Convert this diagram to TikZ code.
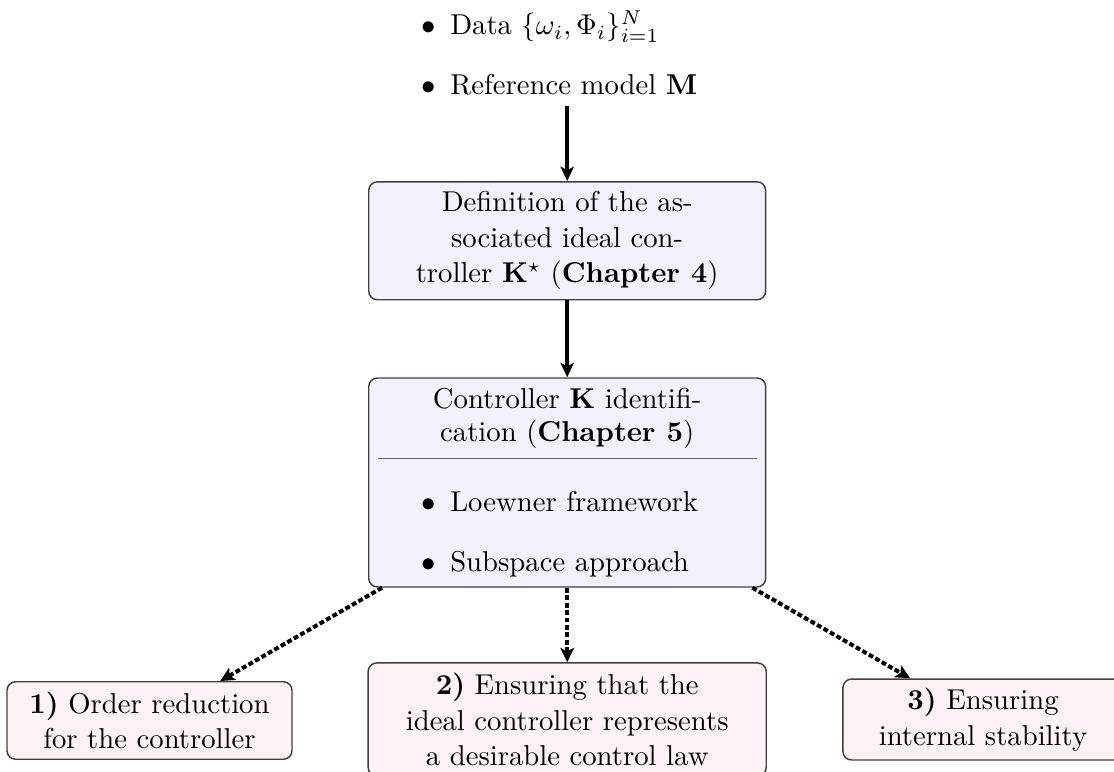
\documentclass[tikz,border=0pt]{standalone}
\usetikzlibrary{arrows.meta}
\begin{document}
\begin{tikzpicture}[x=0.3484pt,y=-0.3484pt,
  every node/.style={font=\fontsize{10pt}{12.4pt}\selectfont},
  boxbase/.style={draw=black!75, line width=0.5pt, rounded corners=3pt, align=center, inner sep=0pt},
  bluebox/.style={boxbase, fill=blue!5},
  redbox/.style={boxbase, fill=red!5},
  txt/.style={inner sep=0pt, anchor=base west},
  ctxt/.style={inner sep=0pt, anchor=base},
  solidarrow/.style={-{Stealth[length=5pt,width=4.6pt,inset=1.2pt]}, line width=1.2pt},
  dasharrow/.style={-{Stealth[length=5pt,width=4.8pt,inset=1.2pt]}, line width=1.4pt, dash pattern=on 1.7pt off 0.9pt},
  rulestyle/.style={draw=black!60, line width=0.5pt}]
\useasboundingbox (0,0) rectangle (1114,772);

% input data
\node[txt] (d1) at (421,35) {$\bullet$\hspace{5pt}Data $\{\omega_i,\Phi_i\}_{i=1}^{N}$};
\node[txt] (d2) at (421,95) {$\bullet$\hspace{5pt}Reference model $\mathbf{M}$};
\coordinate (instart) at (567.2,106);

% ideal controller
\node[bluebox, minimum width=138.3pt, minimum height=41.1pt] (def) at (567.2,240.8)
  {Definition of the as-\\sociated ideal con-\\troller $\mathbf{K}^{\star}$ (\textbf{Chapter 4})};

% identification box
\node[bluebox, minimum width=138.3pt, minimum height=72.8pt] (ctrl) at (567.2,482.5) {};
\node[ctxt] (h1) at (567.2,408.3) {Controller $\mathbf{K}$ identifi-};
\node[ctxt] (h2) at (567.2,442) {cation (\textbf{Chapter 5})};
\coordinate (rl) at (378.3,458.3);
\coordinate (rr) at (756.7,458.3);
\draw[rulestyle] (rl) -- (rr);
\node[txt] (b1) at (421,511.7) {$\bullet$\hspace{5pt}Loewner framework};
\node[txt] (b2) at (421,571.7) {$\bullet$\hspace{5pt}Subspace approach};

% bottom boxes
\node[redbox, minimum width=99.3pt, minimum height=27pt] (ra) at (149.5,720.5)
  {\textbf{1)} Order reduction\\for the controller};
\node[redbox, minimum width=138.7pt, minimum height=39.4pt] (rb) at (567.2,719.5)
  {\textbf{2)} Ensuring that the\\ideal controller represents\\a desirable control law};
\node[redbox, minimum width=97.6pt, minimum height=28.2pt] (rc) at (983,719.5)
  {\textbf{3)} Ensuring\\internal stability};

% connectors
\draw[solidarrow] (instart) -- (def.north);
\draw[solidarrow] (def.south) -- (ctrl.north);
\draw[dasharrow] ([xshift=4.9pt]ctrl.south west) -- ([xshift=24.6pt]ra.north);
\draw[dasharrow] (ctrl.south) -- (rb.north);
\draw[dasharrow] ([xshift=-4.9pt]ctrl.south east) -- ([xshift=-25.4pt]rc.north);
\end{tikzpicture}
\end{document}
